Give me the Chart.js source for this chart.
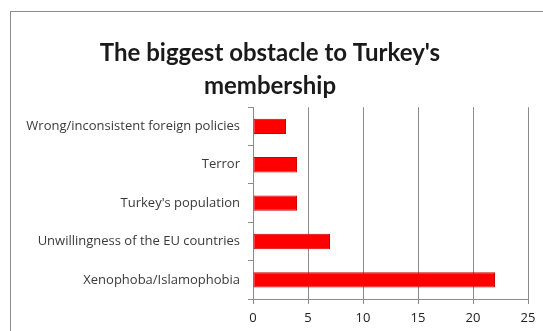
<!DOCTYPE html>
<html>
<head>
<meta charset="utf-8">
<script src="https://cdn.jsdelivr.net/npm/chart.js@4"></script>
<style>
  html, body { margin: 0; padding: 0; background: #ffffff; }
  body { width: 543px; height: 331px; position: relative; overflow: hidden; }
  #frame { position: absolute; left: 10px; top: 11px; width: 600px; height: 400px;
           border-left: 1px solid #8c8c8c; border-top: 1px solid #8c8c8c; }
  #wrap { position: absolute; left: 0; top: 0; width: 543px; height: 331px; }
</style>
</head>
<body>
<div id="frame"></div>
<div id="wrap"><canvas id="c" width="543" height="331"></canvas></div>
<script>
const titleLines = ["The biggest obstacle to Turkey's", "membership"];
const categories = [
  "Wrong/inconsistent foreign policies",
  "Terror",
  "Turkey's population",
  "Unwillingness of the EU countries",
  "Xenophoba/Islamophobia"
];
const values = [3, 4, 4, 7, 22];
const xTicks = [0, 5, 10, 15, 20, 25];

new Chart(document.getElementById('c'), {
  type: 'bar',
  data: {
    labels: categories,
    datasets: [{
      data: values,
      backgroundColor: '#ff0000',
      borderColor: '#d00000',
      borderWidth: 1,
      borderSkipped: false,
      barPercentage: 0.4,
      categoryPercentage: 1.0
    }]
  },
  options: {
    indexAxis: 'y',
    responsive: false,
    animation: false,
    devicePixelRatio: 1,
    layout: { padding: { left: 12, right: 15, top: 36, bottom: 0 } },
    plugins: {
      legend: { display: false },
      tooltip: { enabled: false },
      title: {
        display: true,
        text: titleLines,
        color: '#1a1a1a',
        font: { family: 'Lato', size: 24, weight: 'bold', lineHeight: 1.4 },
        padding: { top: 0, bottom: 4 }
      }
    },
    scales: {
      x: {
        min: 0, max: 25,
        afterBuildTicks: (s) => { s.ticks = xTicks.map(v => ({ value: v })); },
        afterFit: (s) => { s.height = 32; },
        grid: { color: '#8a8a8a', lineWidth: 1, drawTicks: true, tickLength: 5, tickColor: '#8a8a8a' },
        border: { display: true, color: '#8a8a8a' },
        ticks: { color: '#222222', font: { family: 'Open Sans', size: 13 }, padding: 6 }
      },
      y: {
        offset: true,
        afterFit: (s) => { s.width = 241; },
        grid: { drawOnChartArea: false, drawTicks: true, tickLength: 5, offset: true, color: '#8a8a8a' },
        border: { display: true, color: '#8a8a8a' },
        ticks: { color: '#3a3a3a', font: { family: 'Open Sans', size: 13 }, padding: 8 }
      }
    }
  }
});
</script>
</body>
</html>
